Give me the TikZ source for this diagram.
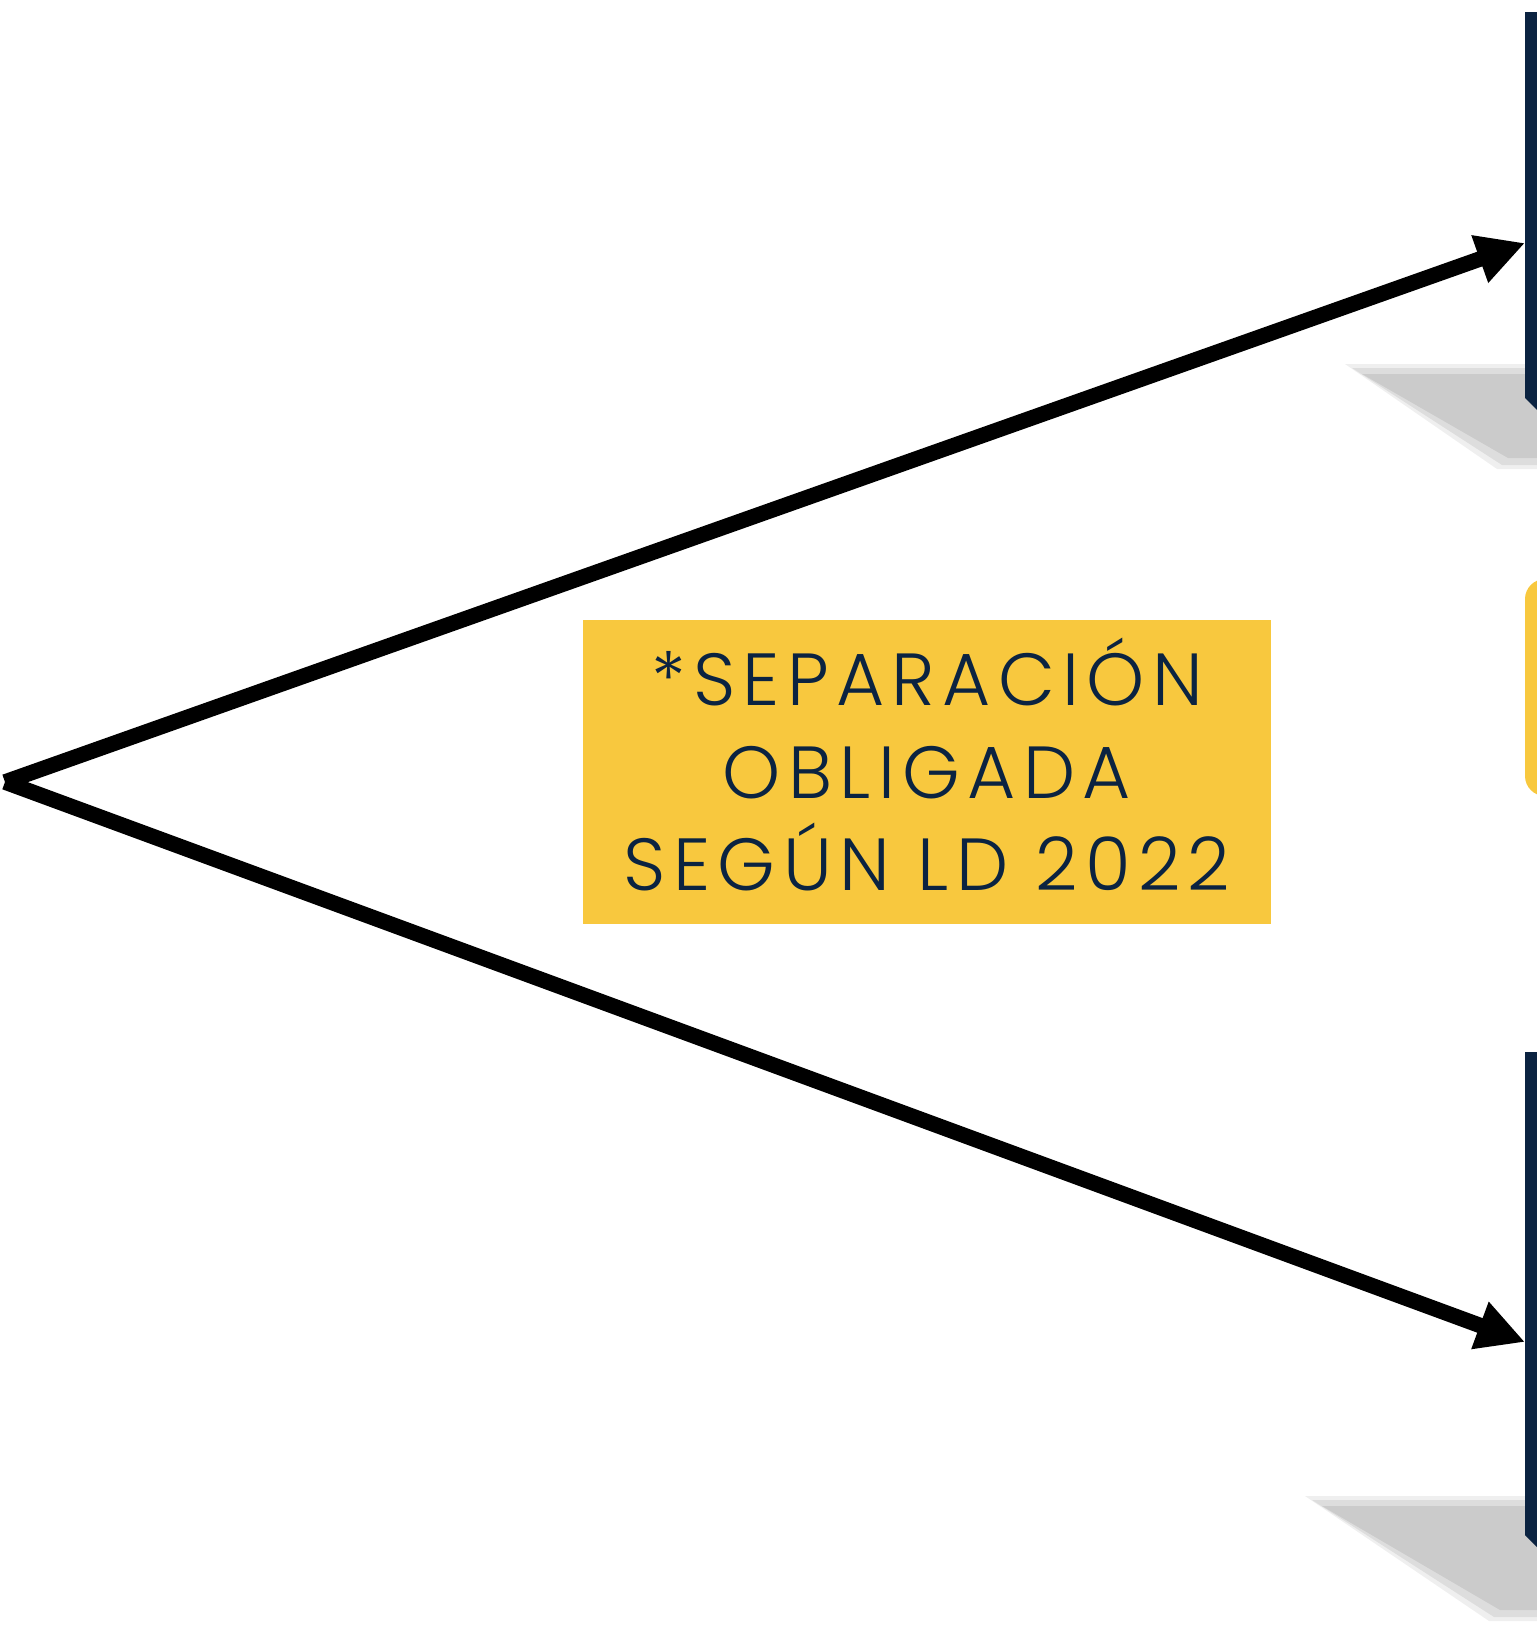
\documentclass[tikz,border=0pt]{standalone}
\usepackage{fontspec}
\setmainfont{Poppins Light}
\usetikzlibrary{positioning}
\usetikzlibrary{arrows.meta}
\definecolor{navy}{HTML}{0B2341}
\definecolor{mustard}{HTML}{F8C83E}
\definecolor{shade}{HTML}{CBCBCB}

\begin{document}
\begin{tikzpicture}
    [
    x=0.01cm, y=-0.01cm,
    every card/.style={fill=navy, draw=none},
    note/.style={fill=mustard, text=navy, inner sep=0pt, align=center,
        minimum width=6.88cm, minimum height=3.04cm,
        font=\fontsize{21}{26.3}\selectfont\addfontfeatures{LetterSpace=10}},
    shadow/.style={fill=shade},
    link/.style={line width=0.155cm, -{Triangle[length=0.48cm, width=0.47cm]}},
    ]

    \useasboundingbox (0,0) rectangle (1537,1642);

    % shadows behind the cards
    \fill[shadow, opacity=0.3] (1345,364) -- (1537,364) -- (1537,469) -- (1497,469) -- cycle;
    \fill[shadow, opacity=0.5] (1352,368) -- (1537,368) -- (1537,465) -- (1502,465) -- cycle;
    \fill[shadow] (1362,374) -- (1537,374) -- (1537,458) -- (1508,458) -- cycle;
    \fill[shadow, opacity=0.3] (1305,1496) -- (1537,1496) -- (1537,1621) -- (1489,1621) -- cycle;
    \fill[shadow, opacity=0.5] (1312,1500) -- (1537,1500) -- (1537,1617) -- (1494,1617) -- cycle;
    \fill[shadow] (1322,1506) -- (1537,1506) -- (1537,1610) -- (1500,1610) -- cycle;

    % cards cut off on the right
    \fill[every card] (1525,12) -- (1537,12) -- (1537,410) -- (1525,398) -- cycle;
    \fill[every card] (1525,1052) -- (1537,1052) -- (1537,1547) -- (1525,1535) -- cycle;
    \fill[mustard, rounded corners=0.2cm] (1525,579) rectangle (1560,796);

    \coordinate (pt_start) at (5,782);
    \coordinate (pt_top) at (1525,243);
    \coordinate (pt_bottom) at (1525,1342);

    \node[note] (box_separacion) at (927,772)
    {\raisebox{0.15cm}{*SEPARACIÓN}\\\raisebox{0.15cm}{OBLIGADA}\\\raisebox{0.15cm}{SEGÚN LD 2022}};

    \draw[link] (pt_start) -- (pt_top);
    \draw[link] (pt_start) -- (pt_bottom);
\end{tikzpicture}
\end{document}
